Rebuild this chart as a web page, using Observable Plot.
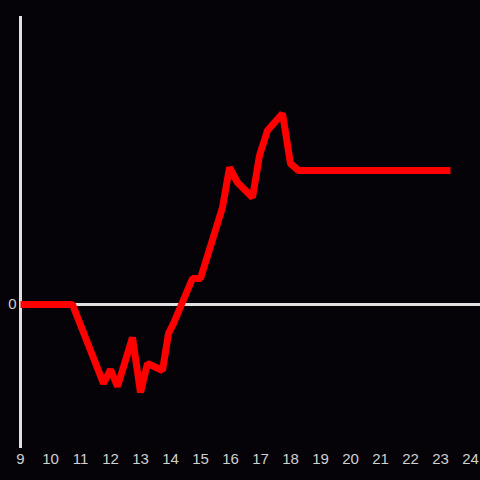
<!DOCTYPE html>
<html><head><meta charset="utf-8">
<script src="https://cdn.jsdelivr.net/npm/d3@7"></script>
<script src="https://cdn.jsdelivr.net/npm/@observablehq/plot@0.6"></script>
<style>
html,body{margin:0;padding:0;background:#050307;}
#chart svg{display:block;}
#chart svg text{font-size:15px !important;font-family:"Liberation Sans",Arial,sans-serif !important;}
</style>
</head><body><div id="chart"></div>
<script>
const hours = [9.0, 10.733, 11.767, 12.0, 12.233, 12.733, 13.0, 13.233, 13.733, 13.933, 14.1, 14.733, 15.0, 15.733, 15.967, 16.233, 16.733, 16.967, 17.233, 17.733, 18.0, 18.267, 23.333];
const values = [0, 0, -79, -65, -82, -33, -88, -59, -66, -29, -19, 26, 26, 97, 137, 122, 107, 149, 174, 191, 141, 134, 134];
const xTicks = [9,10,11,12,13,14,15,16,17,18,19,20,21,22,23,24];
const yTicks = [0];

const data = hours.map((h,i)=>({h, v: values[i]}));

const chart = Plot.plot({
  width: 480, height: 480,
  marginLeft: 20, marginRight: 0, marginTop: 16, marginBottom: 32,
  style: {background: "#050307", color: "#d0d0d0"},
  x: {domain: [9, 24.3333]},
  y: {domain: [-144, 288]},
  marks: [
    Plot.axisX({ticks: xTicks, tickSize: 0, tickPadding: 5, tickFormat: d => String(d), label: null, fill: "#d0d0d0"}),
    Plot.axisY({ticks: yTicks, tickSize: 0, tickPadding: 4, tickFormat: d => String(d), label: null, fill: "#d0d0d0"}),
    Plot.ruleY([0], {stroke: "#e0e0e0", strokeWidth: 3}),
    Plot.ruleX([9], {stroke: "#e0e0e0", strokeWidth: 3}),
    Plot.line(data, {x: "h", y: "v", stroke: "#ff0000", strokeWidth: 7, strokeLinejoin: "miter", strokeLinecap: "butt"})
  ]
});
document.getElementById("chart").appendChild(chart);
</script>
</body></html>
